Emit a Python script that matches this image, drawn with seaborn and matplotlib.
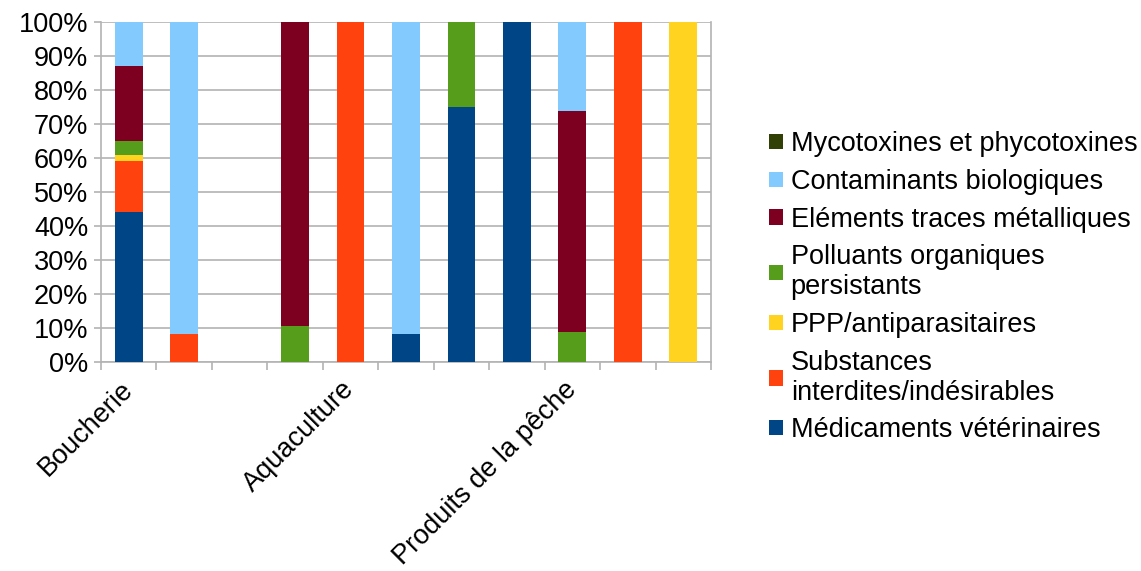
import numpy as np
import pandas as pd
import matplotlib
matplotlib.use("Agg")
import matplotlib.pyplot as plt
import seaborn as sns
from matplotlib.patches import Patch

# ---- data ----
slots = [f"s{i}" for i in range(11)]
tick_labels = ["Boucherie", "", "", "", "Aquaculture", "", "", "", "Produits de la pêche", "", ""]

# stacking order bottom -> top
series_names = [
    "Médicaments vétérinaires",
    "Substances\ninterdites/indésirables",
    "PPP/antiparasitaires",
    "Polluants organiques\npersistants",
    "Eléments traces métalliques",
    "Contaminants biologiques",
    "Mycotoxines et phycotoxines",
]
medicaments = [44, 0, 0, 0, 0, 8.3, 75, 100, 0, 0, 0]
substances  = [15, 8.3, 0, 0, 100, 0, 0, 0, 0, 100, 0]
ppp         = [2, 0, 0, 0, 0, 0, 0, 0, 0, 0, 100]
pop         = [4, 0, 0, 10.5, 0, 0, 25, 0, 8.7, 0, 0]
etm         = [22, 0, 0, 89.5, 0, 0, 0, 0, 65.2, 0, 0]
biologiques = [13, 91.7, 0, 0, 0, 91.7, 0, 0, 26.1, 0, 0]
mycotoxines = [0, 0, 0, 0, 0, 0, 0, 0, 0, 0, 0]

colors = ["#004586", "#ff420e", "#ffd320", "#579d1c", "#7e0021", "#83caff", "#314004"]

series = [medicaments, substances, ppp, pop, etm, biologiques, mycotoxines]
cum = np.cumsum(np.array(series, dtype=float), axis=0) / 100.0

sns.set_theme(style="white")
plt.rcParams["font.family"] = ["Liberation Sans", "DejaVu Sans"]
plt.rcParams["text.color"] = "black"
plt.rcParams["xtick.color"] = "black"
plt.rcParams["ytick.color"] = "black"

fig = plt.figure(figsize=(11.41, 5.71), dpi=100)
ax = fig.add_axes([0.0885, 0.366, 0.5346, 0.5954])

grid_c = "#b3b3b3"
for i in reversed(range(len(series))):
    df = pd.DataFrame({"slot": slots, "val": cum[i]})
    sns.barplot(data=df, x="slot", y="val", order=slots, color=colors[i],
                width=0.5, saturation=1, ax=ax, zorder=3, errorbar=None,
                linewidth=0, edgecolor="none")

ax.set_ylim(0, 1)
ax.set_xlim(-0.5, 10.5)
ax.set_yticks(np.arange(0, 1.01, 0.1))
ax.set_yticklabels([f"{int(round(v*100))}%" for v in np.arange(0, 1.01, 0.1)],
                   fontsize=19.5, color="black")
ax.yaxis.grid(True, color=grid_c, linewidth=1.2, zorder=0)
ax.set_axisbelow(True)

ax.set_xticks(range(11))
ax.set_xticklabels(tick_labels, rotation=45, ha="right", va="center",
                   rotation_mode="anchor", fontsize=19.5, color="black")
ax.tick_params(axis="x", which="major", length=0, pad=17, labelcolor="black")
ax.set_xticks(np.arange(-0.5, 11, 1), minor=True)
ax.tick_params(axis="x", which="minor", length=6, color=grid_c, width=1.2, bottom=True)
ax.tick_params(axis="y", length=5, color=grid_c, width=1.2, left=True, pad=4,
               labelcolor="black")
ax.set_xlabel("")
ax.set_ylabel("")
for s in ax.spines.values():
    s.set_color(grid_c)
    s.set_linewidth(1.2)
ax.spines["top"].set_visible(False)

# legend (top to bottom reversed of stacking)
handles = [Patch(facecolor=colors[i], edgecolor="none", label=series_names[i])
           for i in reversed(range(len(series)))]
leg = fig.legend(handles=handles, loc="center left", bbox_to_anchor=(0.674, 0.497),
                 frameon=False, fontsize=19.5, handlelength=0.5, handleheight=0.5,
                 handletextpad=0.3, labelspacing=0.43, borderpad=0, borderaxespad=0)
for t in leg.get_texts():
    t.set_color("black")

fig.savefig("out.png", dpi=100)
